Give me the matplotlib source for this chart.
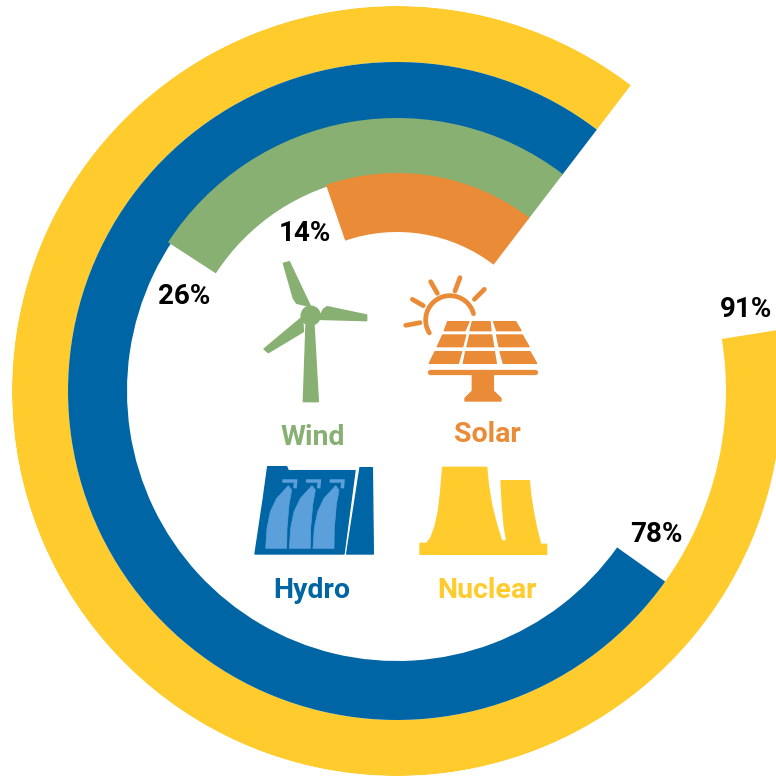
#!/usr/bin/env python3
"""Concentric energy share rings with small source icons in the middle."""
import matplotlib
matplotlib.use("Agg")
import matplotlib.pyplot as plt
from matplotlib.patches import Circle, Polygon
import numpy as np

W, H = 776, 778
CX, CY = 397, 391
RMAX = 385

SOURCES = ["Nuclear", "Hydro", "Wind", "Solar"]
PCT_LABELS = ["91%", "78%", "26%", "14%"]
SWEEP_DEG = [316.5, 272, 94.4, 56.4]  # rings are not to scale with the labels

INNER = [329, 270, 216, 159]
OUTER = [385, 329, 273, 218]
START_DEG = -37.4

YELLOW = "#FFCB2D"
BLUE = "#0065A4"
GREEN = "#87B072"
ORANGE = "#E98B37"
LIGHT_BLUE = "#5B9FDB"
COLORS = [YELLOW, BLUE, GREEN, ORANGE]

FONT = "Roboto"

fig = plt.figure(figsize=(W / 100, H / 100), dpi=100, facecolor="white")

# rings, polar radius is in pixels
ax = fig.add_axes([(CX - RMAX) / W, (H - CY - RMAX) / H, 2 * RMAX / W, 2 * RMAX / H], projection="polar")
ax.set_theta_zero_location("N")
ax.set_theta_direction(1)
ax.set_ylim(0, RMAX)
ax.axis("off")
for i in range(len(SOURCES)):
    ax.bar(np.radians(START_DEG), OUTER[i] - INNER[i], width=np.radians(SWEEP_DEG[i]),
           bottom=INNER[i], align="edge", color=COLORS[i], linewidth=0)

# overlay in pixel coordinates for icons and text
ov = fig.add_axes([0, 0, 1, 1])
ov.set_xlim(0, W)
ov.set_ylim(H, 0)
ov.axis("off")
ov.patch.set_alpha(0)


def shape(x0, y0, pts, color, lw=1.0, z=3):
    # pts are in zoomed crop units (3x)
    xy = [(x0 + px / 3, y0 + py / 3) for px, py in pts]
    ov.add_patch(Polygon(xy, closed=True, facecolor=color, edgecolor=color, linewidth=lw,
                         joinstyle="round", zorder=z))


def stroke(x0, y0, pts, color, lw, cap="round", z=3):
    ov.plot([x0 + p[0] / 3 for p in pts], [y0 + p[1] / 3 for p in pts], color=color, linewidth=lw,
            solid_capstyle=cap, solid_joinstyle="miter", zorder=z)


# wind turbine
wx, wy = 240, 250
shape(wx, wy, [(198, 225), (222, 225), (235, 455), (190, 455)], GREEN)
shape(wx, wy, [(130, 40), (148, 35), (212, 170), (170, 160), (160, 145)], GREEN)
shape(wx, wy, [(380, 195), (380, 212), (235, 208), (250, 178), (262, 170)], GREEN)
shape(wx, wy, [(72, 297), (85, 308), (190, 245), (188, 200)], GREEN)
ov.add_patch(Circle((wx + 212 / 3, wy + 197 / 3), 9.5, color=GREEN, zorder=4))

# solar panel and sun
sx, sy = 395, 265
cells = [
    [(158, 170), (222, 170), (210, 197), (148, 197)],
    [(232, 170), (285, 170), (288, 197), (225, 197)],
    [(296, 170), (362, 170), (378, 197), (305, 197)],
    [(143, 210), (212, 210), (203, 245), (127, 245)],
    [(224, 210), (290, 210), (296, 245), (216, 245)],
    [(305, 210), (382, 210), (402, 245), (312, 245)],
    [(120, 260), (200, 260), (190, 295), (103, 295)],
    [(212, 260), (298, 260), (304, 295), (205, 295)],
    [(315, 260), (405, 260), (425, 295), (325, 295)],
]
for cell in cells:
    shape(sx, sy, cell, ORANGE, lw=1.0)
stroke(sx, sy, [(104, 321), (421, 321)], ORANGE, 3.8)
shape(sx, sy, [(232, 330), (295, 330), (295, 378), (318, 400), (318, 408), (210, 408), (210, 400),
               (232, 378)], ORANGE)
a = np.radians(np.linspace(15, 212, 40))
ov.plot(sx + (165 + 73 * np.cos(a)) / 3, sy + (165 - 73 * np.sin(a)) / 3, color=ORANGE, linewidth=3.4,
        solid_capstyle="round", zorder=3)
rays = [
    [(32, 181), (75, 173)],
    [(52, 103), (85, 122)],
    [(107, 50), (127, 85)],
    [(195, 38), (180, 78)],
    [(268, 73), (238, 103)],
]
for ray in rays:
    stroke(sx, sy, ray, ORANGE, 3.4)

# hydro dam
hx, hy = 245, 455
shape(hx, hy, [(68, 35), (125, 35), (130, 47), (330, 47), (297, 297), (30, 297), (55, 130)], BLUE)
shape(hx, hy, [(345, 38), (382, 38), (385, 297), (305, 297)], BLUE)
for off in [0, 71, 142]:
    shape(hx, hy, [(62 + off, 280), (125 + off, 280), (126 + off, 220), (132 + off, 150), (140 + off, 105),
                   (130 + off, 92), (95 + off, 130), (76 + off, 170), (66 + off, 220)], LIGHT_BLUE, lw=0.5, z=4)
    stroke(hx, hy, [(112 + off, 78), (152 + off, 78), (150 + off, 100)], LIGHT_BLUE, 2.5, cap="butt", z=4)

# nuclear cooling towers
nx, ny = 410, 455
shape(nx, ny, [(30, 265), (50, 265), (62, 250), (75, 215), (85, 170), (92, 110), (98, 37), (230, 37),
               (235, 90), (245, 150), (260, 210), (275, 258), (290, 258), (283, 215), (277, 150), (273, 77),
               (358, 77), (362, 120), (370, 170), (380, 220), (392, 268), (410, 268), (410, 298), (30, 298)],
      YELLOW)

# source names
NAME_SIZE = 20.5
ov.text(313, 437, "Wind", color=GREEN, fontsize=NAME_SIZE, fontweight="bold", family=FONT, ha="center", va="center")
ov.text(487, 434, "Solar", color=ORANGE, fontsize=NAME_SIZE, fontweight="bold", family=FONT, ha="center", va="center")
ov.text(312, 590, "Hydro", color=BLUE, fontsize=NAME_SIZE, fontweight="bold", family=FONT, ha="center", va="center")
ov.text(487, 590, "Nuclear", color=YELLOW, fontsize=NAME_SIZE, fontweight="bold", family=FONT, ha="center", va="center")

# percent labels
LABEL_POS = [(746, 309), (656, 534), (184, 296), (305, 233)]
for txt, (lx, ly) in zip(PCT_LABELS, LABEL_POS):
    ov.text(lx, ly, txt, color="black", fontsize=20, fontweight="bold", family=FONT, ha="center", va="center")

fig.savefig("out.png", dpi=100)
